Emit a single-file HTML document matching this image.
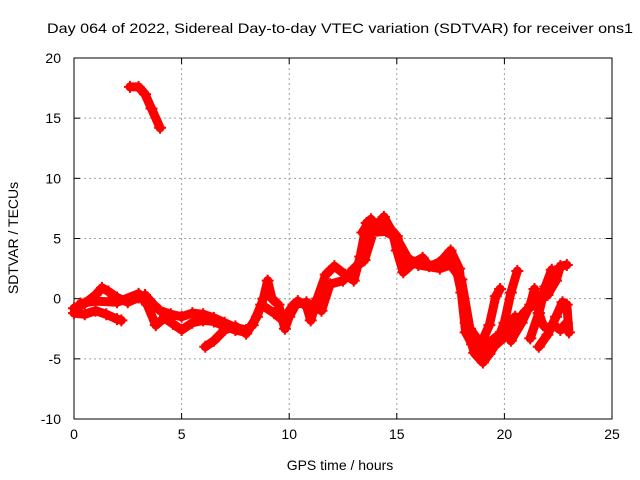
<!DOCTYPE html>
<html><head><meta charset="utf-8"><style>
body{margin:0;background:#fff;}
svg{display:block;font-family:"Liberation Sans",sans-serif;}
</style></head><body>
<svg id="chart" width="640" height="480">
<rect width="640" height="480" fill="#fff"/>
<g id="grid"></g><g id="axes"></g><g id="marks"></g>
<text x="47" y="33" font-size="14" textLength="586" lengthAdjust="spacingAndGlyphs">Day 064 of 2022, Sidereal Day-to-day VTEC variation (SDTVAR) for receiver ons1</text>
<text x="340" y="470" font-size="14" text-anchor="middle">GPS time / hours</text>
<text transform="translate(18,238) rotate(-90)" font-size="14" text-anchor="middle">SDTVAR / TECUs</text>
</svg>
<script>
const xTicks=[0,5,10,15,20,25];
const yTicks=[-10,-5,0,5,10,15,20];
const seriesA=[[2.6,17.6],[3.0,17.6],[3.3,17.0],[3.6,15.8],[4.0,14.2]];
const seriesB=[[0,-0.8],[0.5,-0.4],[1,0.3],[1.3,0.9],[1.6,0.6],[2,0.1],[2.5,-0.3],[3,0.1],[3.3,0.3],[3.7,-0.5],[4,-1],[4.5,-1.3],[5,-1.5],[5.5,-1.2],[6,-1.3],[6.5,-1.6],[7,-2],[7.5,-2.4],[8,-2.6]];
const seriesC=[[0,-1.2],[0.5,-1.3],[1,-1.0],[1.5,-1.3],[2,-1.7],[2.2,-1.8]];
const seriesD=[[0.3,-0.4],[1,-0.2],[2,-0.3],[3,0.4],[3.4,-0.5],[3.8,-2.2],[4.2,-1.6],[4.6,-2.1],[5,-2.6],[5.5,-2.0],[6,-1.8],[6.5,-1.9],[7,-2.3],[7.5,-2.6],[8,-2.8]];
const seriesE=[[6.1,-4],[6.5,-3.5],[7,-2.6],[7.5,-2.3],[8,-2.9],[8.5,-1.5],[8.8,0],[9,1.5],[9.2,0],[9.5,-0.5],[9.8,-2.5],[10,-1.5],[10.4,-0.2],[10.8,-0.6],[11,-1.8],[11.3,0],[11.7,2],[12.1,2.7],[12.6,2.0],[13,1.5],[13.3,3.5],[13.6,6.3],[14,6.0],[14.4,6.8],[14.8,5.5],[15,4],[15.3,2.2],[15.8,3],[16.2,3.4],[16.5,2.7],[17,3],[17.5,4],[17.9,2.5],[18.2,-2],[18.6,-4.5],[19,-5.3],[19.3,-4.6],[19.7,-3.5],[20,-2.8],[20.5,-1.5]];
const seriesF=[[8.3,-2.2],[8.7,-0.5],[9.3,-1.2],[9.7,-1.8],[10.2,-0.5],[10.8,-0.3],[11.5,-1],[11.9,1.2],[12.5,1.5],[13,2.5],[13.5,3.2],[13.9,5.5],[14.5,5.6],[15,5],[15.5,3.4],[16,2.8],[17,2.5],[17.5,2.8],[18,1.6],[18.4,-2.5],[18.8,-3.5],[19.2,-3.8],[19.6,-3.2]];
const seriesG=[[18.8,-4.2],[19.3,-2.2],[19.6,0.2],[19.8,0.8]];
const seriesH=[[19.6,-3.8],[20,-2],[20.3,0.5],[20.6,2.3]];
const seriesI=[[20.3,-3.5],[20.8,-2.0],[21.2,-0.5],[21.4,0.8],[21.6,-1.2],[21.8,-2.2],[22.0,-2.5],[22.3,-2.2],[22.6,-2.6],[22.9,-2.0]];
const seriesJ=[[21.2,-3.3],[21.6,-1.2],[21.9,1.0],[22.2,2.4]];
const seriesK=[[21.6,-4.0],[22.0,-3.0],[22.4,-1.5],[22.7,-0.3],[22.9,-0.5],[23.0,-2.8]];
const seriesL=[[20.5,-2.0],[21.0,-1.0],[21.5,-0.3],[22.0,0.3],[22.4,1.5],[22.6,2.7],[22.9,2.8]];
const seriesM=[[16.8,2.8],[17.3,3.5],[17.7,3.0],[18.0,0.5],[18.2,-2.8],[18.5,-3.8],[19.0,-4.3],[19.5,-4.0],[20.0,-3.2],[20.4,-2.5]];
const seriesN=[[13.4,5.5],[13.8,6.6],[14.2,5.8],[14.6,6.0],[15.0,5.2],[15.4,3.0]];
const allSeries=[seriesA,seriesB,seriesC,seriesD,seriesE,seriesF,seriesG,seriesH,seriesI,seriesJ,seriesK,seriesL,seriesM,seriesN];

const X0=74,X1=612,Y0=419,Y1=58;
const xs=v=>X0+(v-0)/25*(X1-X0);
const ys=v=>Y0-(v+10)/30*(Y0-Y1);
const NS='http://www.w3.org/2000/svg';
function mk(tag,attrs,parent){const e=document.createElementNS(NS,tag);for(const k in attrs)e.setAttribute(k,attrs[k]);parent.appendChild(e);return e;}
const grid=document.getElementById('grid'),axes=document.getElementById('axes'),marks=document.getElementById('marks');
xTicks.forEach(t=>{const x=xs(t);
 if(t>0&&t<25){const l=mk('line',{x1:x,x2:x,y1:Y1,y2:Y0,stroke:'#a0a0a0','stroke-dasharray':'2,3'},grid);
 
 }
 mk('line',{x1:x,x2:x,y1:Y0,y2:Y0-6,stroke:'#000'},axes);mk('line',{x1:x,x2:x,y1:Y1,y2:Y1+6,stroke:'#000'},axes);
 const tx=mk('text',{x:x,y:Y0+20,'font-size':'14','text-anchor':'middle'},axes);tx.textContent=t;
 
 });
yTicks.forEach(t=>{const y=ys(t);
 if(t>-10&&t<20){const l=mk('line',{x1:X0,x2:X1,y1:y,y2:y,stroke:'#a0a0a0','stroke-dasharray':'2,3'},grid);
 
 }
 mk('line',{x1:X0,x2:X0+6,y1:y,y2:y,stroke:'#000'},axes);mk('line',{x1:X1,x2:X1-6,y1:y,y2:y,stroke:'#000'},axes);
 const tx=mk('text',{x:X0-13,y:y+5,'font-size':'14','text-anchor':'end'},axes);tx.textContent=t;
 
 });
const frame=mk('rect',{x:X0,y:Y1,width:X1-X0,height:Y0-Y1,fill:'none',stroke:'#000'},axes);


allSeries.forEach((s,i)=>{
 const p=mk('polyline',{points:s.map(d=>xs(d[0])+','+ys(d[1])).join(' '),fill:'none',stroke:'#ff0000','stroke-width':9,'stroke-linejoin':'round','stroke-linecap':'round'},marks);
 
 
 s.forEach(d=>{const x=xs(d[0]),y=ys(d[1]);
  const m=mk('path',{d:`M${x-6},${y}H${x+6}M${x},${y-6}V${y+6}`,stroke:'#ff0000','stroke-width':2},marks);
  
  });
});
</script>
</body></html>
